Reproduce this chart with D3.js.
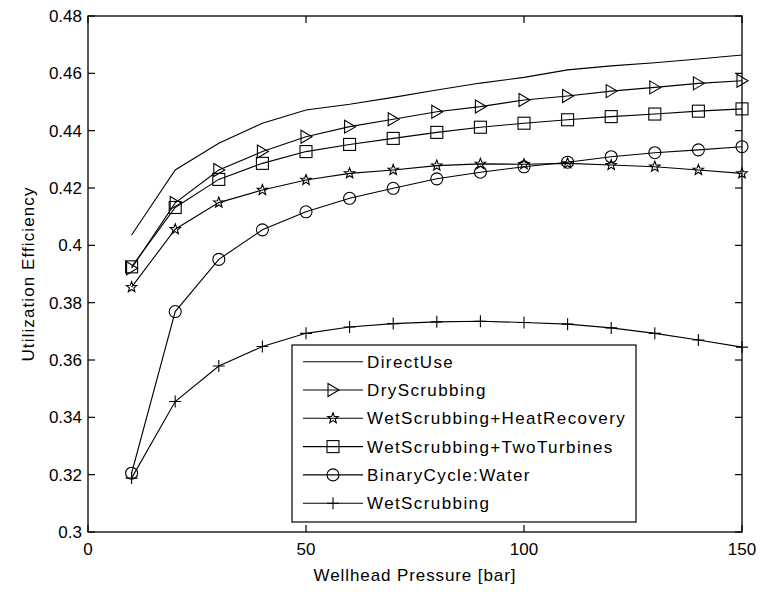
<!DOCTYPE html>
<html><head><meta charset="utf-8">
<script src="https://cdn.jsdelivr.net/npm/d3@7"></script>
<style>
html,body{margin:0;padding:0;background:#fff;}
text{font-family:"Liberation Sans",Arial,sans-serif;fill:#000;}
</style></head>
<body>
<svg id="chart" width="762" height="594"></svg>
<script>
const pressure = [10,20,30,40,50,60,70,80,90,100,110,120,130,140,150];
const directUse = [0.4036,0.4263,0.4356,0.4426,0.4472,0.4492,0.4516,0.4542,0.4566,0.4586,0.4612,0.4626,0.4637,0.4650,0.4664];
const dryScrubbing = [0.3920,0.4148,0.4263,0.4327,0.4379,0.4414,0.4440,0.4466,0.4484,0.4507,0.4521,0.4538,0.4551,0.4565,0.4574];
const wetHeatRecovery = [0.3854,0.4056,0.4149,0.4193,0.4228,0.4251,0.4263,0.4278,0.4284,0.4283,0.4286,0.4280,0.4274,0.4263,0.4251];
const wetTwoTurbines = [0.3925,0.4132,0.4230,0.4286,0.4327,0.4352,0.4373,0.4394,0.4412,0.4426,0.4438,0.4449,0.4458,0.4468,0.4476];
const binaryWater = [0.3205,0.3769,0.3951,0.4054,0.4117,0.4164,0.4199,0.4232,0.4255,0.4274,0.4290,0.4309,0.4323,0.4333,0.4344];
const wetScrubbing = [0.3188,0.3455,0.3579,0.3647,0.3693,0.3715,0.3727,0.3733,0.3735,0.3731,0.3725,0.3712,0.3693,0.3670,0.3645];
const seriesNames = ["DirectUse","DryScrubbing","WetScrubbing+HeatRecovery","WetScrubbing+TwoTurbines","BinaryCycle:Water","WetScrubbing"];
const seriesMarkers = ["none","triangle","star","square","circle","plus"];
const xTicks = [0,50,100,150];
const yTicks = [0.3,0.32,0.34,0.36,0.38,0.4,0.42,0.44,0.46,0.48];
const xLabel = "Wellhead Pressure [bar]";
const yLabel = "Utilization Efficiency";

const seriesValues = [directUse,dryScrubbing,wetHeatRecovery,wetTwoTurbines,binaryWater,wetScrubbing];
const L=88,R=742,T=16,B=532;
const x = d3.scaleLinear().domain([0,150]).range([L,R]);
const y = d3.scaleLinear().domain([0.3,0.48]).range([B,T]);
const svg = d3.select("#chart");
const FS = 17;

// axes box
svg.append("rect").attr("x",L).attr("y",T).attr("width",R-L).attr("height",B-T)
  .attr("fill","#fff").attr("stroke","#000").attr("stroke-width",1.3);

const tl = 7;
const ax = svg.append("g").attr("stroke","#000").attr("stroke-width",1.2);
xTicks.forEach(t=>{
  ax.append("line").attr("x1",x(t)).attr("x2",x(t)).attr("y1",B).attr("y2",B-tl);
  ax.append("line").attr("x1",x(t)).attr("x2",x(t)).attr("y1",T).attr("y2",T+tl);
});
yTicks.forEach(t=>{
  ax.append("line").attr("x1",L).attr("x2",L+tl).attr("y1",y(t)).attr("y2",y(t));
  ax.append("line").attr("x1",R).attr("x2",R-tl).attr("y1",y(t)).attr("y2",y(t));
});
svg.append("g").selectAll("text").data(xTicks).join("text")
  .attr("x",d=>x(d)).attr("y",B+23).attr("text-anchor","middle")
  .attr("font-size",FS).text(d=>d3.format("d")(d));
svg.append("g").selectAll("text").data(yTicks).join("text")
  .attr("x",L-6).attr("y",d=>y(d)+6).attr("text-anchor","end")
  .attr("font-size",FS).text(d=>String(+d.toFixed(2)));
svg.append("text").attr("x",(L+R)/2).attr("y",581).attr("text-anchor","middle")
  .attr("font-size",FS).attr("letter-spacing",0.9).text(xLabel);
svg.append("text").attr("transform",`translate(34,${(T+B)/2}) rotate(-90)`)
  .attr("text-anchor","middle").attr("font-size",FS).attr("letter-spacing",1.1).text(yLabel);

function marker(g,type,cx,cy){
  const s = g.append("g").attr("fill","none").attr("stroke","#000").attr("stroke-width",1.1);
  if(type==="triangle"){
    s.append("path").attr("d",`M${cx-5},${cy-6.5}L${cx+6},${cy}L${cx-5},${cy+6.5}Z`);
  } else if(type==="square"){
    s.append("rect").attr("x",cx-6).attr("y",cy-6).attr("width",12).attr("height",12);
  } else if(type==="circle"){
    s.append("circle").attr("cx",cx).attr("cy",cy).attr("r",6);
  } else if(type==="plus"){
    s.append("path").attr("d",`M${cx-6},${cy}H${cx+6}M${cx},${cy-6}V${cy+6}`);
  } else if(type==="star"){
    const pts=[];
    for(let i=0;i<10;i++){
      const r = i%2===0?5.5:2.3;
      const a = -Math.PI/2 + i*Math.PI/5;
      pts.push([cx+r*Math.cos(a), cy+r*Math.sin(a)]);
    }
    s.append("path").attr("d","M"+pts.map(p=>p.join(",")).join("L")+"Z");
  }
}

const line = d3.line().x((d,i)=>x(pressure[i])).y(d=>y(d));
const plot = svg.append("g");
seriesValues.forEach((vals,k)=>{
  plot.append("path").attr("d",line(vals)).attr("fill","none")
    .attr("stroke","#000").attr("stroke-width",1.1);
  if(seriesMarkers[k]!=="none"){
    vals.forEach((v,i)=>marker(plot,seriesMarkers[k],x(pressure[i]),y(v)));
  }
});

// legend
const lg = svg.append("g");
lg.append("rect").attr("x",292).attr("y",345).attr("width",344).attr("height",177)
  .attr("fill","#fff").attr("stroke","#000").attr("stroke-width",1.2);
seriesNames.forEach((name,k)=>{
  const cy = 361.7 + k*28.3;
  lg.append("line").attr("x1",303).attr("x2",363).attr("y1",cy).attr("y2",cy)
    .attr("stroke","#000").attr("stroke-width",1.1);
  if(seriesMarkers[k]!=="none") marker(lg,seriesMarkers[k],333,cy);
  lg.append("text").attr("x",367).attr("y",cy+6).attr("font-size",FS)
    .attr("letter-spacing",1.4).text(name);
});
</script>
</body></html>
